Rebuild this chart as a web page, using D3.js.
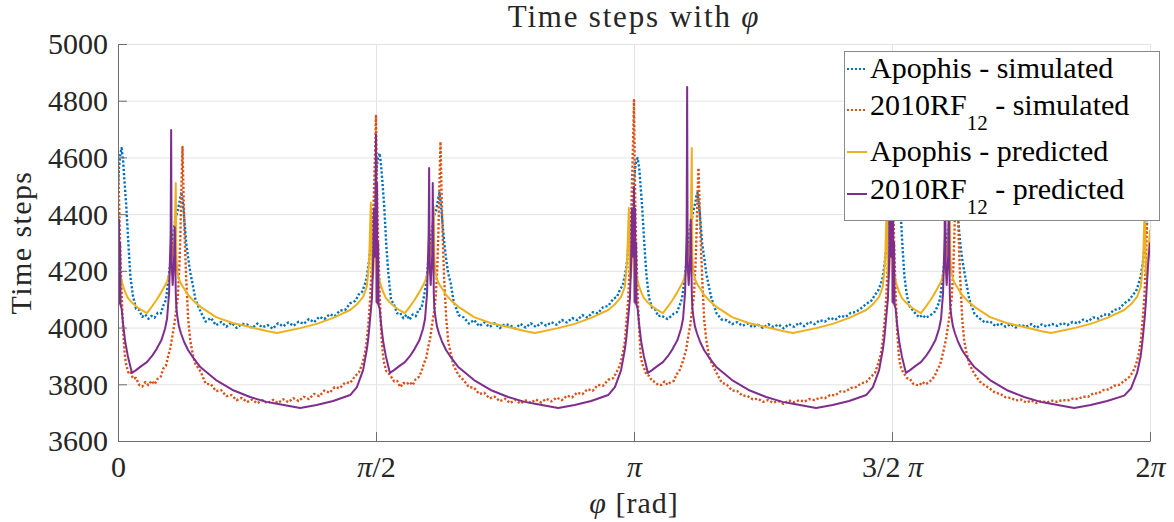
<!DOCTYPE html>
<html>
<head>
<meta charset="utf-8">
<script src="https://cdn.jsdelivr.net/npm/d3@7"></script>
<style>
    body { margin: 0; background: #fff; }
</style>
</head>
<body>
<script>
// phi is stored as a multiple of pi (0 .. 2)

// Simulated runs
const simPhi = [
    0, 0.002, 0.004, 0.007, 0.010, 0.013, 0.016, 0.020, 0.024, 0.029, 0.035, 0.041, 0.047, 0.053, 0.059, 0.065, 0.071, 0.077, 0.083, 0.088,
    0.093, 0.097, 0.101, 0.105, 0.109, 0.113, 0.116, 0.119, 0.121, 0.123, 0.125, 0.127, 0.129, 0.132, 0.136, 0.140, 0.145, 0.150,
    0.160, 0.170, 0.180, 0.190, 0.200, 0.210, 0.220, 0.230, 0.240, 0.250, 0.260, 0.270, 0.280, 0.290, 0.300, 0.310, 0.320, 0.330,
    0.340, 0.350, 0.360, 0.370, 0.380, 0.390, 0.400, 0.410, 0.420, 0.430, 0.440, 0.450, 0.460, 0.467, 0.473, 0.478, 0.482, 0.486,
    0.489, 0.492, 0.495, 0.498,
    0.500, 0.502, 0.504, 0.507, 0.510, 0.513, 0.516, 0.520, 0.524, 0.529, 0.535, 0.541, 0.547, 0.553, 0.559, 0.565, 0.571, 0.577, 0.583, 0.588,
    0.593, 0.597, 0.601, 0.605, 0.609, 0.613, 0.616, 0.619, 0.621, 0.623, 0.625, 0.627, 0.629, 0.632, 0.636, 0.640, 0.645, 0.650,
    0.660, 0.670, 0.680, 0.690, 0.700, 0.710, 0.720, 0.730, 0.740, 0.750, 0.760, 0.770, 0.780, 0.790, 0.800, 0.810, 0.820, 0.830,
    0.840, 0.850, 0.860, 0.870, 0.880, 0.890, 0.900, 0.910, 0.920, 0.930, 0.940, 0.950, 0.960, 0.967, 0.973, 0.978, 0.982, 0.986,
    0.989, 0.992, 0.995, 0.998,
    1.000, 1.002, 1.004, 1.007, 1.010, 1.013, 1.016, 1.020, 1.024, 1.029, 1.035, 1.041, 1.047, 1.053, 1.059, 1.065, 1.071, 1.077, 1.083, 1.088,
    1.093, 1.097, 1.101, 1.105, 1.109, 1.113, 1.116, 1.119, 1.121, 1.123, 1.125, 1.127, 1.129, 1.132, 1.136, 1.140, 1.145, 1.150,
    1.160, 1.170, 1.180, 1.190, 1.200, 1.210, 1.220, 1.230, 1.240, 1.250, 1.260, 1.270, 1.280, 1.290, 1.300, 1.310, 1.320, 1.330,
    1.340, 1.350, 1.360, 1.370, 1.380, 1.390, 1.400, 1.410, 1.420, 1.430, 1.440, 1.450, 1.460, 1.467, 1.473, 1.478, 1.482, 1.486,
    1.489, 1.492, 1.495, 1.498,
    1.500, 1.502, 1.504, 1.507, 1.510, 1.513, 1.516, 1.520, 1.524, 1.529, 1.535, 1.541, 1.547, 1.553, 1.559, 1.565, 1.571, 1.577, 1.583, 1.588,
    1.593, 1.597, 1.601, 1.605, 1.609, 1.613, 1.616, 1.619, 1.621, 1.623, 1.625, 1.627, 1.629, 1.632, 1.636, 1.640, 1.645, 1.650,
    1.660, 1.670, 1.680, 1.690, 1.700, 1.710, 1.720, 1.730, 1.740, 1.750, 1.760, 1.770, 1.780, 1.790, 1.800, 1.810, 1.820, 1.830,
    1.840, 1.850, 1.860, 1.870, 1.880, 1.890, 1.900, 1.910, 1.920, 1.930, 1.940, 1.950, 1.960, 1.967, 1.973, 1.978, 1.982, 1.986,
    1.989, 1.992, 1.995, 1.998, 2.000
];

const apophisSim = [
    4500, 4565, 4605, 4633, 4585, 4505, 4430, 4300, 4180, 4112, 4066, 4062, 4038, 4046, 4031, 4041, 4035, 4052, 4050, 4078,
    4098, 4160, 4225, 4295, 4360, 4395, 4415, 4440, 4462, 4478, 4450, 4415, 4370, 4300, 4245, 4195, 4150, 4100, 4056, 4021,
    4034, 4008, 4020, 4003, 4017, 3999, 4013, 4011, 3998, 4014, 4001, 4009, 3996, 4015, 4004, 4018, 4006, 4021, 4013, 4030,
    4019, 4038, 4030, 4047, 4040, 4060, 4062, 4086, 4094, 4118, 4126, 4150, 4178, 4230, 4280, 4320, 4390, 4450,
    4530, 4575, 4600, 4615, 4570, 4500, 4425, 4290, 4190, 4100, 4080, 4050, 4052, 4033, 4045, 4028, 4046, 4040, 4064, 4068,
    4110, 4152, 4230, 4290, 4355, 4398, 4410, 4438, 4460, 4475, 4445, 4410, 4365, 4305, 4240, 4190, 4155, 4096, 4044, 4036,
    4014, 4027, 4005, 4018, 4002, 4015, 3998, 4012, 4008, 3997, 4013, 4000, 4015, 4002, 4016, 4007, 4019, 4010, 4027, 4018,
    4034, 4026, 4044, 4035, 4054, 4050, 4072, 4076, 4102, 4108, 4135, 4148, 4180, 4225, 4285, 4325, 4395, 4455,
    4520, 4560, 4585, 4598, 4565, 4495, 4420, 4295, 4188, 4106, 4070, 4064, 4040, 4043, 4036, 4030, 4039, 4049, 4054, 4076,
    4102, 4155, 4220, 4300, 4358, 4392, 4418, 4442, 4465, 4475, 4448, 4412, 4372, 4298, 4248, 4192, 4146, 4104, 4050, 4028,
    4026, 4012, 4019, 4006, 4014, 4001, 4010, 3999, 4012, 4002, 4011, 3997, 4012, 4003, 4017, 4005, 4020, 4012, 4026, 4021,
    4035, 4027, 4042, 4037, 4052, 4055, 4068, 4083, 4095, 4115, 4130, 4152, 4176, 4232, 4278, 4322, 4388, 4452,
    4525, 4570, 4595, 4610, 4575, 4500, 4432, 4296, 4182, 4110, 4072, 4060, 4046, 4036, 4044, 4034, 4040, 4047, 4056, 4074,
    4100, 4158, 4228, 4292, 4350, 4388, 4410, 4432, 4450, 4460, 4440, 4405, 4365, 4302, 4242, 4198, 4148, 4098, 4048, 4032,
    4018, 4022, 4006, 4015, 4003, 4012, 4000, 4010, 4003, 4012, 3999, 4011, 4004, 4013, 4006, 4016, 4009, 4020, 4015, 4028,
    4022, 4036, 4032, 4046, 4045, 4062, 4066, 4085, 4098, 4116, 4128, 4155, 4182, 4228, 4282, 4318, 4392, 4448,
    4500
];

const rf12Sim = [
    4615, 4450, 4300, 4120, 3990, 3905, 3868, 3842, 3846, 3820, 3822, 3798, 3792, 3808, 3797, 3812, 3800, 3820, 3828, 3856,
    3866, 3898, 3925, 3965, 4010, 4065, 4110, 4220, 4330, 4500, 4637, 4470, 4330, 4180, 4030, 3955, 3905, 3872, 3845, 3802,
    3800, 3776, 3779, 3758, 3762, 3744, 3752, 3737, 3746, 3733, 3744, 3733, 3745, 3734, 3747, 3737, 3751, 3741, 3756, 3748,
    3766, 3758, 3778, 3770, 3790, 3786, 3806, 3805, 3830, 3842, 3870, 3905, 3950, 4030, 4110, 4230, 4420, 4600,
    4746, 4480, 4310, 4125, 3985, 3910, 3874, 3846, 3840, 3828, 3810, 3812, 3790, 3805, 3800, 3808, 3797, 3818, 3826, 3845,
    3875, 3890, 3930, 3962, 4015, 4060, 4115, 4225, 4340, 4510, 4655, 4480, 4335, 4175, 4035, 3950, 3908, 3868, 3832, 3814,
    3790, 3788, 3766, 3770, 3750, 3756, 3740, 3749, 3734, 3745, 3732, 3743, 3735, 3746, 3736, 3749, 3740, 3753, 3744, 3760,
    3754, 3771, 3765, 3783, 3777, 3798, 3795, 3816, 3822, 3846, 3868, 3908, 3948, 4035, 4105, 4235, 4430, 4640,
    4802, 4490, 4305, 4118, 3995, 3900, 3872, 3855, 3834, 3830, 3812, 3808, 3797, 3798, 3810, 3798, 3808, 3812, 3836, 3848,
    3872, 3895, 3922, 3968, 4008, 4068, 4108, 4215, 4320, 4460, 4563, 4440, 4320, 4182, 4028, 3958, 3902, 3876, 3840, 3806,
    3798, 3778, 3776, 3760, 3759, 3747, 3749, 3738, 3744, 3735, 3741, 3731, 3743, 3737, 3744, 3739, 3748, 3744, 3753, 3751,
    3762, 3761, 3775, 3774, 3787, 3790, 3803, 3808, 3828, 3840, 3872, 3902, 3952, 4028, 4112, 4228, 4418, 4590,
    4700, 4470, 4302, 4122, 3988, 3908, 3866, 3848, 3836, 3822, 3818, 3802, 3798, 3796, 3808, 3800, 3806, 3816, 3830, 3852,
    3868, 3896, 3928, 3962, 4012, 4062, 4112, 4218, 4335, 4505, 4640, 4475, 4328, 4178, 4032, 3952, 3906, 3870, 3836, 3810,
    3796, 3784, 3770, 3766, 3754, 3752, 3743, 3746, 3736, 3743, 3734, 3741, 3736, 3742, 3738, 3745, 3742, 3749, 3748, 3756,
    3756, 3768, 3768, 3780, 3782, 3795, 3798, 3812, 3826, 3844, 3870, 3906, 3948, 4032, 4108, 4232, 4425, 4600,
    4650
];

// Predicted curves
const predPhi = [
    0, 0.001, 0.002, 0.003, 0.004, 0.005, 0.007, 0.010, 0.014, 0.019, 0.027, 0.035, 0.045, 0.056, 0.066, 0.075, 0.084, 0.091,
    0.095, 0.099, 0.102, 0.103, 0.104, 0.106, 0.109, 0.110, 0.112, 0.113, 0.115, 0.118, 0.122, 0.128, 0.136, 0.146, 0.160, 0.190,
    0.222, 0.256, 0.288, 0.308, 0.353, 0.385, 0.417, 0.450, 0.463, 0.475, 0.482, 0.485, 0.487, 0.490, 0.492, 0.494, 0.496, 0.498,
    0.500, 0.501, 0.502, 0.503, 0.504, 0.505, 0.507, 0.510, 0.514, 0.519, 0.527, 0.535, 0.545, 0.556, 0.566, 0.575, 0.584, 0.591,
    0.595, 0.599, 0.602, 0.603, 0.604, 0.606, 0.609, 0.610, 0.612, 0.613, 0.615, 0.618, 0.622, 0.628, 0.636, 0.646, 0.660, 0.690,
    0.722, 0.756, 0.788, 0.808, 0.853, 0.885, 0.917, 0.950, 0.963, 0.975, 0.982, 0.985, 0.987, 0.990, 0.992, 0.994, 0.996, 0.998,
    1.000, 1.001, 1.002, 1.003, 1.004, 1.005, 1.007, 1.010, 1.014, 1.019, 1.027, 1.035, 1.045, 1.056, 1.066, 1.075, 1.084, 1.091,
    1.095, 1.099, 1.102, 1.103, 1.104, 1.106, 1.109, 1.110, 1.112, 1.113, 1.115, 1.118, 1.122, 1.128, 1.136, 1.146, 1.160, 1.190,
    1.222, 1.256, 1.288, 1.308, 1.353, 1.385, 1.417, 1.450, 1.463, 1.475, 1.482, 1.485, 1.487, 1.490, 1.492, 1.494, 1.496, 1.498,
    1.500, 1.501, 1.502, 1.503, 1.504, 1.505, 1.507, 1.510, 1.514, 1.519, 1.527, 1.535, 1.545, 1.556, 1.566, 1.575, 1.584, 1.591,
    1.595, 1.599, 1.602, 1.603, 1.604, 1.606, 1.609, 1.610, 1.612, 1.613, 1.615, 1.618, 1.622, 1.628, 1.636, 1.646, 1.660, 1.690,
    1.722, 1.756, 1.788, 1.808, 1.853, 1.885, 1.917, 1.950, 1.963, 1.975, 1.982, 1.985, 1.987, 1.990, 1.992, 1.994, 1.996, 1.998,
    2.000
];

const apophisPred = [
    4350, 4300, 4235, 4205, 4190, 4180, 4165, 4145, 4125, 4105, 4088, 4075, 4062, 4051, 4075, 4098, 4125, 4148,
    4163, 4183, 4210, 4225, 4242, 4268, 4315, 4360, 4510, 4250, 4195, 4172, 4155, 4138, 4115, 4095, 4073, 4037,
    4016, 4002, 3988, 3981, 3998, 4013, 4034, 4062, 4082, 4108, 4143, 4195, 4255, 4440, 4190, 4175, 4232, 4295,
    4340, 4290, 4235, 4205, 4190, 4180, 4165, 4145, 4125, 4105, 4088, 4075, 4062, 4051, 4075, 4098, 4125, 4148,
    4163, 4183, 4210, 4225, 4242, 4268, 4315, 4360, 4425, 4250, 4195, 4172, 4155, 4138, 4115, 4095, 4073, 4037,
    4016, 4002, 3988, 3981, 3998, 4013, 4034, 4062, 4082, 4108, 4143, 4195, 4255, 4422, 4190, 4175, 4232, 4295,
    4340, 4290, 4235, 4205, 4190, 4180, 4165, 4145, 4125, 4105, 4088, 4075, 4062, 4051, 4075, 4098, 4125, 4148,
    4163, 4183, 4210, 4225, 4242, 4268, 4315, 4360, 4633, 4250, 4195, 4172, 4155, 4138, 4115, 4095, 4073, 4037,
    4016, 4002, 3988, 3981, 3998, 4013, 4034, 4062, 4082, 4108, 4143, 4195, 4255, 4450, 4190, 4175, 4232, 4295,
    4340, 4290, 4235, 4205, 4190, 4180, 4165, 4145, 4125, 4105, 4088, 4075, 4062, 4051, 4075, 4098, 4125, 4148,
    4163, 4183, 4210, 4225, 4242, 4268, 4315, 4360, 4500, 4250, 4195, 4172, 4155, 4138, 4115, 4095, 4073, 4037,
    4016, 4002, 3988, 3981, 3998, 4013, 4034, 4062, 4082, 4108, 4143, 4195, 4255, 4440, 4190, 4175, 4232, 4295,
    4345
];

const rf12Pred = [
    4467, 4090, 4380, 4085, 4300, 4078, 4068, 4010, 3950, 3900, 3840, 3850, 3864, 3878, 3900, 3925, 3955, 3995,
    4030, 4122, 4330, 4697, 4220, 4150, 4260, 4355, 4120, 4070, 4040, 4005, 3980, 3950, 3920, 3893, 3860, 3815,
    3780, 3755, 3738, 3731, 3716, 3727, 3741, 3762, 3790, 3850, 3920, 3960, 4000, 4060, 4100, 4200, 4420, 4250,
    4680, 4090, 4510, 4085, 4300, 4078, 4068, 4010, 3950, 3900, 3840, 3850, 3864, 3878, 3900, 3925, 3955, 3995,
    4030, 4122, 4330, 4563, 4220, 4150, 4260, 4510, 4120, 4070, 4040, 4005, 3980, 3950, 3920, 3893, 3860, 3815,
    3780, 3755, 3738, 3731, 3716, 3727, 3741, 3762, 3790, 3850, 3920, 3960, 4000, 4060, 4100, 4200, 4420, 4250,
    4496, 4090, 4420, 4085, 4300, 4078, 4068, 4010, 3950, 3900, 3840, 3850, 3864, 3878, 3900, 3925, 3955, 3995,
    4030, 4122, 4330, 4848, 4220, 4150, 4260, 4380, 4120, 4070, 4040, 4005, 3980, 3950, 3920, 3893, 3860, 3815,
    3780, 3755, 3738, 3731, 3716, 3727, 3741, 3762, 3790, 3850, 3920, 3960, 4000, 4060, 4100, 4200, 4420, 4250,
    4620, 4090, 4450, 4085, 4300, 4078, 4068, 4010, 3950, 3900, 3840, 3850, 3864, 3878, 3900, 3925, 3955, 3995,
    4030, 4122, 4330, 4700, 4220, 4150, 4260, 4450, 4120, 4070, 4040, 4005, 3980, 3950, 3920, 3893, 3860, 3815,
    3780, 3755, 3738, 3731, 3716, 3727, 3741, 3760, 3785, 3840, 3900, 3945, 3981, 4040, 4090, 4150, 4214, 4260,
    4300
];

const xTicks = [0, 0.5, 1, 1.5, 2];
const xTickLabels = ["0", "π/2", "π", "3/2 π", "2π"];
const yTicks = [3600, 3800, 4000, 4200, 4400, 4600, 4800, 5000];

const seriesNames = ["Apophis - simulated", "2010RF_{12} - simulated", "Apophis - predicted", "2010RF_{12} - predicted"];
const seriesColors = ["#0072BD", "#D95319", "#EDB120", "#7E2F8E"];


const width = 1174;
const height = 522;
const plot = { left: 118, right: 1150, top: 44, bottom: 441 };
const serif = "Liberation Serif";

const svg = d3.select("body").append("svg")
    .attr("width", width)
    .attr("height", height)
    .attr("font-family", serif);

svg.append("rect")
    .attr("width", width)
    .attr("height", height)
    .attr("fill", "#fff");

const x = d3.scaleLinear().domain([0, 2]).range([plot.left, plot.right]);
const y = d3.scaleLinear().domain([3600, 5000]).range([plot.bottom, plot.top]);


// Grid
svg.append("g")
    .attr("transform", `translate(${plot.left},0)`)
    .call(d3.axisLeft(y).tickValues(yTicks).tickSize(-(plot.right - plot.left)).tickFormat(""))
    .call(g => g.select(".domain").remove())
    .call(g => g.selectAll(".tick line").attr("stroke", "#e3e3e3"));

svg.append("g")
    .attr("transform", `translate(0,${plot.bottom})`)
    .call(d3.axisBottom(x).tickValues(xTicks).tickSize(-(plot.bottom - plot.top)).tickFormat(""))
    .call(g => g.select(".domain").remove())
    .call(g => g.selectAll(".tick line").attr("stroke", "#e3e3e3"));


// Lines
const series = [
    { phi: simPhi, values: apophisSim, dotted: true },
    { phi: simPhi, values: rf12Sim, dotted: true },
    { phi: predPhi, values: apophisPred, dotted: false },
    { phi: predPhi, values: rf12Pred, dotted: false }
];

const line = d3.line()
    .x(d => x(d[0]))
    .y(d => y(d[1]));

svg.append("clipPath")
    .attr("id", "plot-clip")
    .append("rect")
    .attr("x", plot.left)
    .attr("y", plot.top)
    .attr("width", plot.right - plot.left)
    .attr("height", plot.bottom - plot.top);

svg.append("g")
    .attr("clip-path", "url(#plot-clip)")
    .selectAll("path")
    .data(series)
    .join("path")
    .attr("d", s => line(d3.zip(s.phi, s.values)))
    .attr("fill", "none")
    .attr("stroke", (s, i) => seriesColors[i])
    .attr("stroke-width", s => s.dotted ? 2.4 : 2)
    .attr("stroke-linejoin", "round")
    .attr("stroke-dasharray", s => s.dotted ? "2.2,2" : null);


// Axes
const axisColor = "#6e6e6e";

svg.append("g")
    .attr("transform", `translate(${plot.left},0)`)
    .call(d3.axisLeft(y).tickValues(yTicks).tickSize(-9).tickSizeOuter(0).tickPadding(10).tickFormat(d3.format("d")))
    .attr("font-family", serif)
    .attr("font-size", 30)
    .call(g => g.select(".domain").attr("stroke", axisColor))
    .call(g => g.selectAll(".tick line").attr("stroke", axisColor))
    .call(g => g.selectAll(".tick text")
        .attr("font-family", serif)
        .attr("dy", "0.33em")
        .attr("fill", "#262626"));

const xAxis = svg.append("g")
    .attr("transform", `translate(0,${plot.bottom})`)
    .call(d3.axisBottom(x).tickValues(xTicks).tickSize(-9).tickSizeOuter(0).tickFormat(""))
    .attr("font-family", serif)
    .attr("font-size", 30)
    .call(g => g.select(".domain").attr("stroke", axisColor))
    .call(g => g.selectAll(".tick line").attr("stroke", axisColor));

xAxis.selectAll(".tick")
    .append("text")
    .attr("y", 36)
    .attr("text-anchor", "middle")
    .attr("font-family", serif)
    .attr("fill", "#262626")
    .each(function (d, i) {
        const parts = xTickLabels[i].split(/(π)/).filter(p => p.length);
        d3.select(this).selectAll("tspan")
            .data(parts)
            .join("tspan")
            .attr("font-style", p => p === "π" ? "italic" : null)
            .text(p => p);
    });


// Titles
const title = svg.append("text")
    .attr("x", (plot.left + plot.right) / 2)
    .attr("y", 27)
    .attr("text-anchor", "middle")
    .attr("font-family", serif)
    .attr("font-size", 31)
    .attr("fill", "#262626")
    .attr("letter-spacing", 1.8);
title.append("tspan").text("Time steps with ");
title.append("tspan").attr("font-style", "italic").text("φ");

const xLabel = svg.append("text")
    .attr("x", (plot.left + plot.right) / 2)
    .attr("y", 513)
    .attr("text-anchor", "middle")
    .attr("font-family", serif)
    .attr("font-size", 30)
    .attr("fill", "#262626")
    .attr("letter-spacing", 1);
xLabel.append("tspan").attr("font-style", "italic").text("φ");
xLabel.append("tspan").text(" [rad]");

svg.append("text")
    .attr("transform", `translate(31,${(plot.top + plot.bottom) / 2}) rotate(-90)`)
    .attr("text-anchor", "middle")
    .attr("font-family", serif)
    .attr("font-size", 30)
    .attr("fill", "#262626")
    .attr("letter-spacing", 1.4)
    .text("Time steps");


// Legend
const legendBox = { x: 844.5, y: 51.5, w: 315, h: 169 };
const legendRowY = [69, 110, 152, 194];

const legend = svg.append("g");

legend.append("rect")
    .attr("x", legendBox.x)
    .attr("y", legendBox.y)
    .attr("width", legendBox.w)
    .attr("height", legendBox.h)
    .attr("fill", "#fff")
    .attr("stroke", "#8a8a8a");

const rows = legend.selectAll("g.row")
    .data(seriesNames)
    .join("g")
    .attr("class", "row")
    .attr("transform", (d, i) => `translate(0,${legendRowY[i]})`);

rows.append("line")
    .attr("x1", 847)
    .attr("x2", 867)
    .attr("stroke", (d, i) => seriesColors[i])
    .attr("stroke-width", 2)
    .attr("stroke-dasharray", (d, i) => series[i].dotted ? "2,2" : null);

rows.append("text")
    .attr("x", 870)
    .attr("y", d => d.includes("_{") ? 5 : 9)
    .attr("font-family", serif)
    .attr("font-size", 30)
    .attr("fill", "#000")
    .each(function (d) {
        const parts = d.split(/_\{(\d+)\}/);
        const t = d3.select(this);
        parts.forEach((p, k) => {
            if (k % 2 === 1) {
                t.append("tspan").attr("font-size", 21).attr("dy", 15).text(p);
            } else if (k > 0) {
                t.append("tspan").attr("dy", -15).text(p);
            } else {
                t.append("tspan").text(p);
            }
        });
    });
</script>
</body>
</html>
